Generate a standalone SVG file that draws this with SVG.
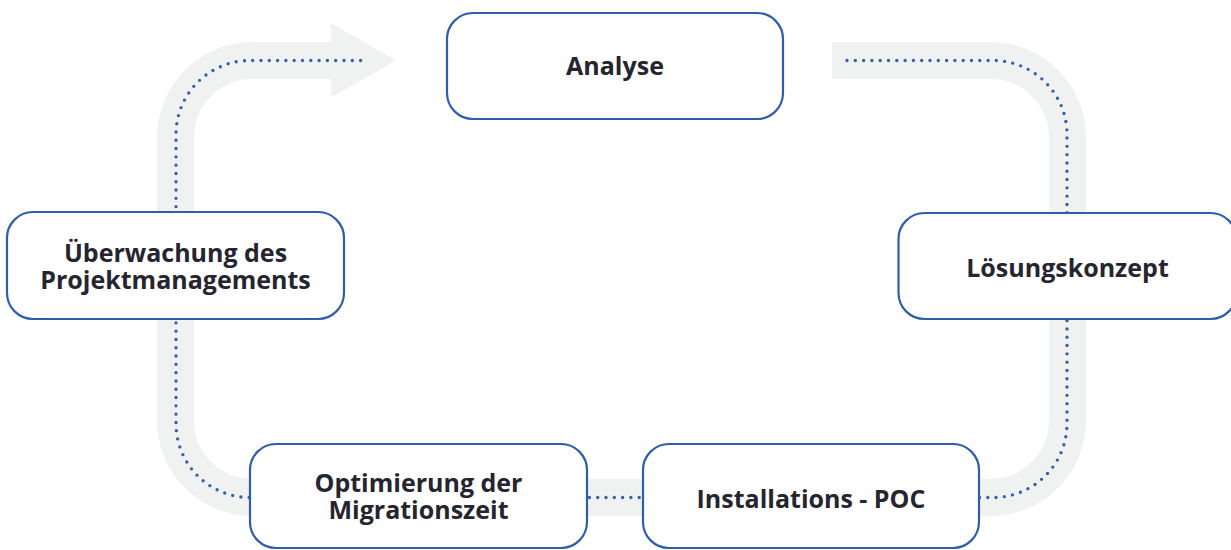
<svg xmlns="http://www.w3.org/2000/svg" width="1231" height="550" viewBox="0 0 1231 550">
<style>
.band{fill:none;stroke:#F0F2F2;stroke-width:37;stroke-linecap:butt;stroke-linejoin:round}
.dots{fill:none;stroke:#3560AD;stroke-width:3.4;stroke-linecap:round;stroke-dasharray:0 8.3}
.box{fill:#FFFFFF;stroke:#2F5DA9;stroke-width:2.2}
.lbl{font-family:"Open Sans","Noto Sans","Liberation Sans",sans-serif;font-weight:700;font-size:25px;fill:#25252F;text-anchor:middle}
</style>
<rect width="1231" height="550" fill="#FFFFFF"/>
<g id="connectors">
<path class="band" d="M832 60.5 H990.5 A77 77 0 0 1 1067.5 137.5 V420.5 A77 77 0 0 1 990.5 497.5 H252.5 A77 77 0 0 1 175.5 420.5 V137.5 A77 77 0 0 1 252.5 60.5 H332"/>
<polygon points="331,23 396,60.5 331,97.5" fill="#F0F2F2"/>
<path class="dots" d="M847 60.5 H993 A74 74 0 0 1 1067 134.5 V423.5 A74 74 0 0 1 993 497.5 H250 A74 74 0 0 1 176 423.5 V134.5 A74 74 0 0 1 250 60.5 H366"/>
</g>
<g id="analyse">
<rect class="box" x="447" y="13" width="336" height="106" rx="26"/>
<text class="lbl" x="615" y="75">Analyse</text>
</g>
<g id="loesungskonzept">
<rect class="box" x="898.5" y="213" width="338" height="106" rx="26"/>
<text class="lbl" x="1067.5" y="277">Lösungskonzept</text>
</g>
<g id="installations">
<rect class="box" x="643" y="444" width="336" height="104" rx="26"/>
<text class="lbl" x="811" y="508">Installations - POC</text>
</g>
<g id="optimierung">
<rect class="box" x="250" y="444" width="337" height="104" rx="26"/>
<text class="lbl"><tspan x="418.5" y="492">Optimierung der</tspan><tspan x="418.5" y="519">Migrationszeit</tspan></text>
</g>
<g id="ueberwachung">
<rect class="box" x="7" y="212" width="337" height="107" rx="26"/>
<text class="lbl"><tspan x="175.5" y="262">Überwachung des</tspan><tspan x="175.5" y="289">Projektmanagements</tspan></text>
</g>
</svg>
